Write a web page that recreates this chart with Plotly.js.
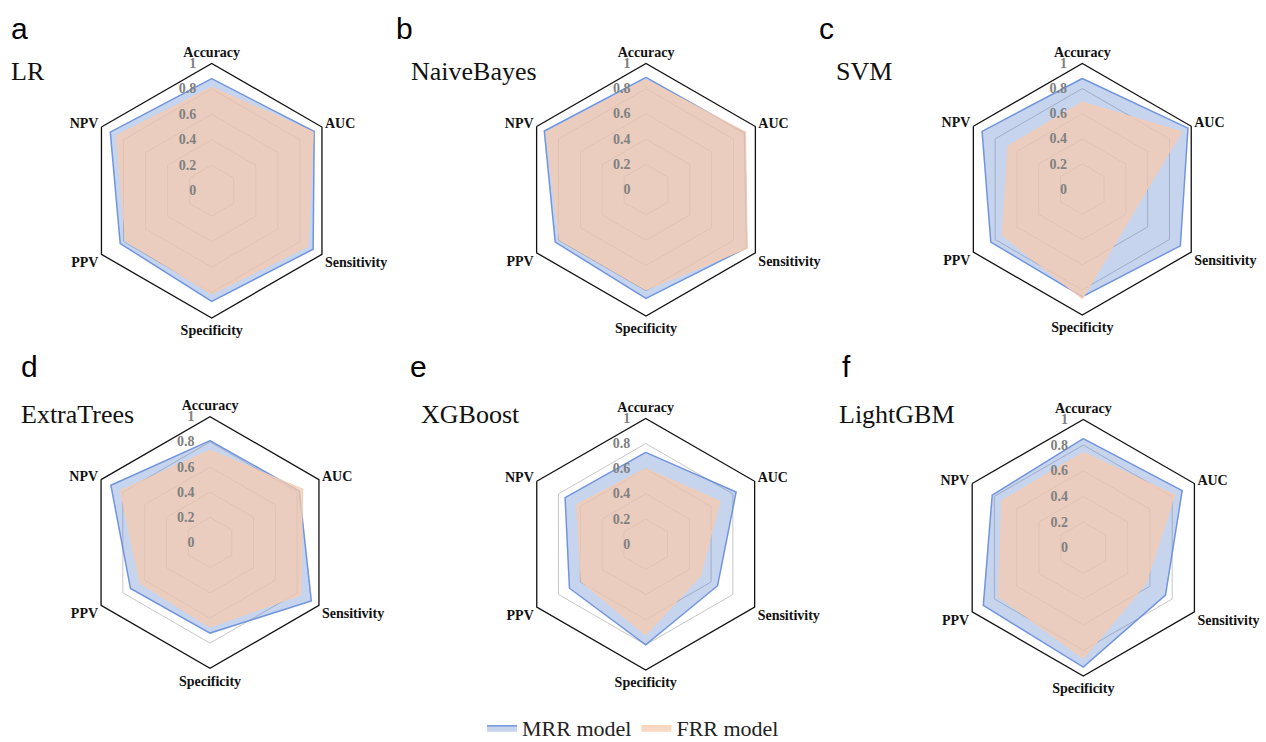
<!DOCTYPE html>
<html>
<head>
<meta charset="utf-8">
<script src="https://cdn.plot.ly/plotly-3.0.1.min.js"></script>
<style>html,body{margin:0;padding:0;background:#fff;overflow:hidden;}#chart{width:1266px;height:742px;overflow:hidden;}</style>
</head>
<body>
<div id="chart"></div>
<script>
// ---- data ----
const categories = ['Accuracy', 'AUC', 'Sensitivity', 'Specificity', 'PPV', 'NPV'];
const modelNames = ['LR', 'NaiveBayes', 'SVM', 'ExtraTrees', 'XGBoost', 'LightGBM'];
const panelLetters = ['a', 'b', 'c', 'd', 'e', 'f'];
const seriesNames = ['MRR model', 'FRR model'];
const radialTicks = [0, 0.2, 0.4, 0.6, 0.8, 1];
const radialTickText = ['0', '0.2', '0.4', '0.6', '0.8', '1'];

const mrrLR         = [0.88, 0.93, 0.92, 0.87, 0.83, 0.92];
const frrLR         = [0.81, 0.92, 0.87, 0.81, 0.78, 0.86];
const mrrNaiveBayes = [0.89, 0.90, 0.92, 0.86, 0.83, 0.93];
const frrNaiveBayes = [0.87, 0.91, 0.925, 0.79, 0.79, 0.91];
const mrrSVM        = [0.88, 0.97, 0.90, 0.855, 0.84, 0.92];
const frrSVM        = [0.69, 0.91, 0.44, 0.87, 0.73, 0.68];
const mrrExtraTrees = [0.81, 0.82, 0.93, 0.72, 0.73, 0.91];
const frrExtraTrees = [0.73, 0.85, 0.83, 0.67, 0.64, 0.82];
const mrrXGBoost    = [0.73, 0.83, 0.66, 0.80, 0.70, 0.74];
const frrXGBoost    = [0.60, 0.68, 0.50, 0.72, 0.59, 0.63];
const mrrLightGBM   = [0.85, 0.89, 0.74, 0.93, 0.90, 0.82];
const frrLightGBM   = [0.74, 0.82, 0.56, 0.86, 0.76, 0.73];

const mrrSeries = [mrrLR, mrrNaiveBayes, mrrSVM, mrrExtraTrees, mrrXGBoost, mrrLightGBM];
const frrSeries = [frrLR, frrNaiveBayes, frrSVM, frrExtraTrees, frrXGBoost, frrLightGBM];

// ---- layout geometry (pixels from top-left) ----
const W = 1266, H = 760; // drawing is slightly taller than the 742px view so the legend fits without margin push
const centers = [[211.7, 190.7], [646, 189.7], [1082.3, 189.2], [210, 542.5], [645.7, 544.2], [1083.3, 547.7]];
const radii = [127.3, 126.3, 125.8, 125.8, 125.8, 128.3];
const letterPos = [[19, 28], [404, 28], [827, 28], [30, 366], [418, 366], [846, 366]];
const namePos = [[9, 71], [409, 71], [834, 71], [19, 414], [419, 414], [837, 414]];
const legendCenterY = 728;

const serif = 'Liberation Serif, Times New Roman, serif';
const sans = 'Liberation Sans, Arial, sans-serif';
const close = a => a.concat([a[0]]);
const thetaClosed = close(categories);

const mrrFill = 'rgba(68,114,196,0.30)';
const mrrLine = 'rgba(100,140,220,0.9)';
const frrFill = 'rgba(248,203,173,0.72)';
const frrLine = 'rgba(248,203,173,0.9)';

const traces = [];
const layout = {
  width: W, height: H,
  margin: {l: 0, r: 0, t: 0, b: 0},
  paper_bgcolor: '#fff',
  showlegend: true,
  legend: {orientation: 'h', x: 0.5, xanchor: 'center',
           y: 1 - legendCenterY / H, yanchor: 'middle',
           font: {family: serif, size: 22, color: '#222'}, traceorder: 'normal', itemwidth: 30},
  annotations: []
};

for (let i = 0; i < 6; i++) {
  const key = i === 0 ? 'polar' : 'polar' + (i + 1);
  const [cx, cy] = centers[i];
  const R = radii[i];
  layout[key] = {
    domain: {x: [(cx - R) / W, (cx + R) / W], y: [1 - (cy + R) / H, 1 - (cy - R) / H]},
    bgcolor: 'rgba(0,0,0,0)',
    gridshape: 'linear',
    radialaxis: {
      range: [0, 1], tickvals: radialTicks, ticktext: radialTickText,
      angle: 90, tickangle: 90, side: 'counterclockwise',
      showline: false, ticks: 'outside', ticklen: 10, tickcolor: 'rgba(0,0,0,0)',
      gridcolor: '#c8c8c8', gridwidth: 1,
      tickfont: {family: serif, size: 14, color: '#808080', weight: 'bold'}
    },
    angularaxis: {
      direction: 'clockwise', rotation: 90,
      showline: true, linecolor: '#111', linewidth: 1.3,
      showgrid: false, ticks: '',
      tickfont: {family: serif, size: 14, color: '#111', weight: 'bold'}
    }
  };
  traces.push({
    type: 'scatterpolar', subplot: key, name: seriesNames[0], legendgroup: 'mrr', showlegend: i === 0,
    r: close(mrrSeries[i]), theta: thetaClosed, fill: 'toself', mode: 'lines',
    fillcolor: mrrFill, line: {color: mrrLine, width: 1.5}
  });
  traces.push({
    type: 'scatterpolar', subplot: key, name: seriesNames[1], legendgroup: 'frr', showlegend: i === 0,
    r: close(frrSeries[i]), theta: thetaClosed, fill: 'toself', mode: 'lines',
    fillcolor: frrFill, line: {color: frrLine, width: 1.2}
  });
  layout.annotations.push({
    text: panelLetters[i], xref: 'paper', yref: 'paper', x: letterPos[i][0] / W, y: 1 - letterPos[i][1] / H,
    xanchor: 'center', yanchor: 'middle', showarrow: false, font: {family: sans, size: 30, color: '#000'}
  });
  layout.annotations.push({
    text: modelNames[i], xref: 'paper', yref: 'paper', x: namePos[i][0] / W, y: 1 - namePos[i][1] / H,
    xanchor: 'left', yanchor: 'middle', showarrow: false, font: {family: serif, size: 26, color: '#111'}
  });
}

Plotly.newPlot('chart', traces, layout, {displayModeBar: false, staticPlot: true});
</script>
</body>
</html>
